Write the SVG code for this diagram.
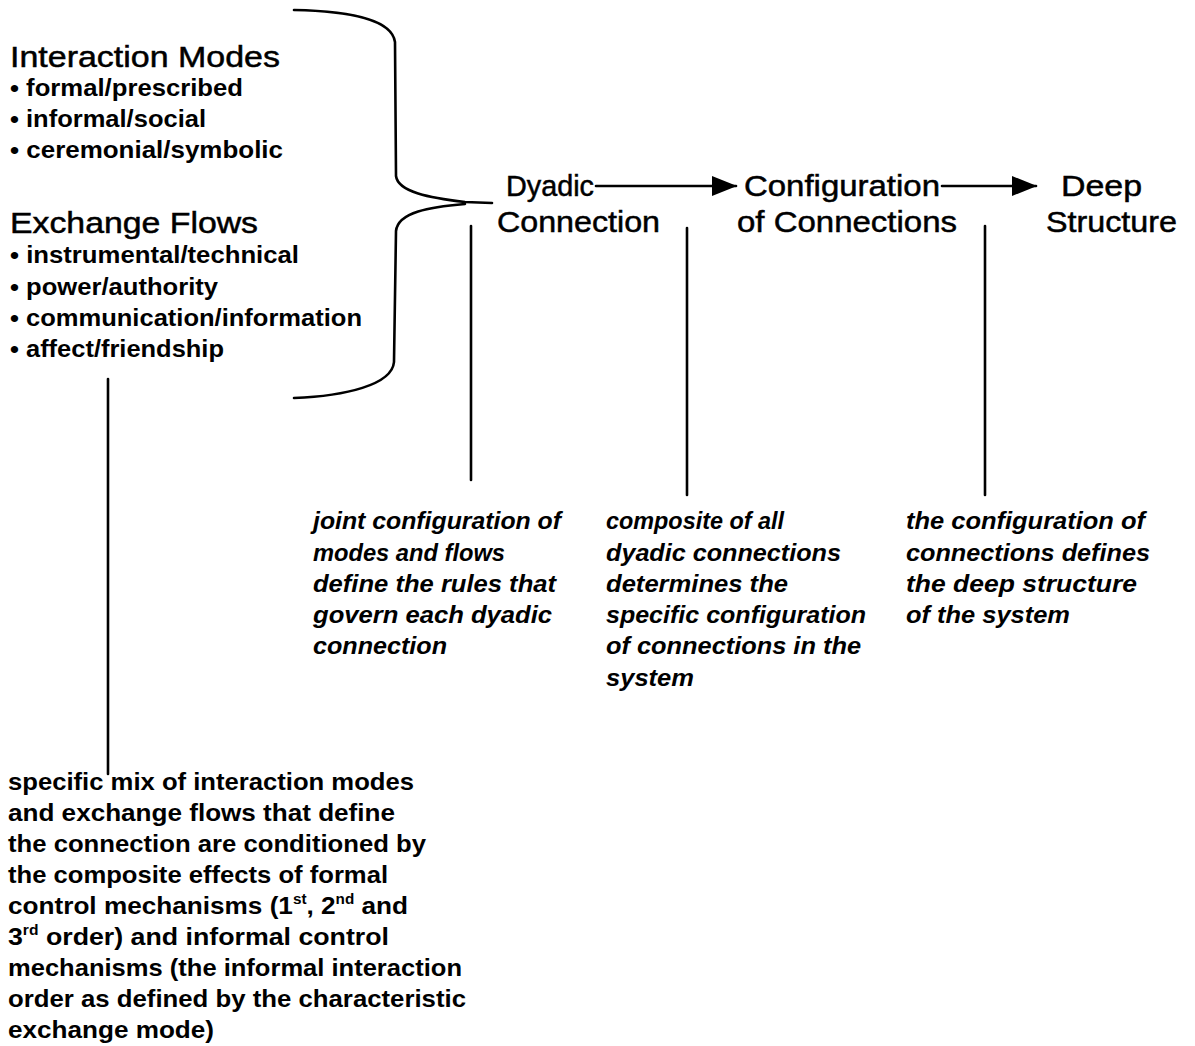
<svg xmlns="http://www.w3.org/2000/svg" width="1195" height="1046" viewBox="0 0 1195 1046">
  <style>
    text { font-family: "Liberation Sans", Arial, sans-serif; fill: #000; }
    .head { font-size: 30px; stroke: #000; stroke-width: 0.5; }
    .item { font-size: 24px; font-weight: bold; }
    .stage { font-size: 30px; stroke: #000; stroke-width: 0.5; }
    .note { font-size: 24px; font-weight: bold; font-style: italic; }
    .body { font-size: 24px; font-weight: bold; }
    .sup { font-size: 14px; }
    .line { stroke: #000; stroke-width: 2.6; fill: none; stroke-linecap: round; }
  </style>
  <defs>
    <marker id="arrow" markerWidth="26" markerHeight="22" refX="24" refY="11" orient="auto" markerUnits="userSpaceOnUse">
      <path d="M0,1 L25,11 L0,21 Z" fill="#000"/>
    </marker>
  </defs>
  <rect width="1195" height="1046" fill="#fff"/>

  <!-- Interaction modes and exchange flows list -->
  <g id="modes-flows">
    <text class="head" x="10" y="67" textLength="270" lengthAdjust="spacingAndGlyphs">Interaction Modes</text>
    <text class="item" x="10" y="96" textLength="233" lengthAdjust="spacingAndGlyphs">• formal/prescribed</text>
    <text class="item" x="10" y="127" textLength="196" lengthAdjust="spacingAndGlyphs">• informal/social</text>
    <text class="item" x="10" y="158" textLength="273" lengthAdjust="spacingAndGlyphs">• ceremonial/symbolic</text>
    <text class="head" x="10" y="233" textLength="248" lengthAdjust="spacingAndGlyphs">Exchange Flows</text>
    <text class="item" x="10" y="263" textLength="289" lengthAdjust="spacingAndGlyphs">• instrumental/technical</text>
    <text class="item" x="10" y="295" textLength="208" lengthAdjust="spacingAndGlyphs">• power/authority</text>
    <text class="item" x="10" y="326" textLength="352" lengthAdjust="spacingAndGlyphs">• communication/information</text>
    <text class="item" x="10" y="357" textLength="214" lengthAdjust="spacingAndGlyphs">• affect/friendship</text>
  </g>

  <!-- Stage labels -->
  <g id="dyadic">
    <text class="stage" x="506" y="196" textLength="88" lengthAdjust="spacingAndGlyphs">Dyadic</text>
    <text class="stage" x="497" y="232" textLength="163" lengthAdjust="spacingAndGlyphs">Connection</text>
  </g>
  <g id="configuration">
    <text class="stage" x="744" y="196" textLength="196" lengthAdjust="spacingAndGlyphs">Configuration</text>
    <text class="stage" x="737" y="232" textLength="220" lengthAdjust="spacingAndGlyphs">of Connections</text>
  </g>
  <g id="deep">
    <text class="stage" x="1061" y="196" textLength="81" lengthAdjust="spacingAndGlyphs">Deep</text>
    <text class="stage" x="1046" y="232" textLength="131" lengthAdjust="spacingAndGlyphs">Structure</text>
  </g>

  <!-- Explanatory notes -->
  <g id="note-dyadic">
    <text class="note" x="313" y="529" textLength="248" lengthAdjust="spacingAndGlyphs">joint configuration of</text>
    <text class="note" x="313" y="561" textLength="192" lengthAdjust="spacingAndGlyphs">modes and flows</text>
    <text class="note" x="313" y="592" textLength="243" lengthAdjust="spacingAndGlyphs">define the rules that</text>
    <text class="note" x="313" y="623" textLength="239" lengthAdjust="spacingAndGlyphs">govern each dyadic</text>
    <text class="note" x="313" y="654" textLength="134" lengthAdjust="spacingAndGlyphs">connection</text>
  </g>
  <g id="note-configuration">
    <text class="note" x="606" y="529" textLength="178" lengthAdjust="spacingAndGlyphs">composite of all</text>
    <text class="note" x="606" y="561" textLength="235" lengthAdjust="spacingAndGlyphs">dyadic connections</text>
    <text class="note" x="606" y="592" textLength="182" lengthAdjust="spacingAndGlyphs">determines the</text>
    <text class="note" x="606" y="623" textLength="260" lengthAdjust="spacingAndGlyphs">specific configuration</text>
    <text class="note" x="606" y="654" textLength="255" lengthAdjust="spacingAndGlyphs">of connections in the</text>
    <text class="note" x="606" y="686" textLength="88" lengthAdjust="spacingAndGlyphs">system</text>
  </g>
  <g id="note-deep">
    <text class="note" x="906" y="529" textLength="239" lengthAdjust="spacingAndGlyphs">the configuration of</text>
    <text class="note" x="906" y="561" textLength="244" lengthAdjust="spacingAndGlyphs">connections defines</text>
    <text class="note" x="906" y="592" textLength="231" lengthAdjust="spacingAndGlyphs">the deep structure</text>
    <text class="note" x="906" y="623" textLength="164" lengthAdjust="spacingAndGlyphs">of the system</text>
  </g>
  <g id="note-mix">
    <text class="body" x="8" y="790" textLength="406" lengthAdjust="spacingAndGlyphs">specific mix of interaction modes</text>
    <text class="body" x="8" y="821" textLength="387" lengthAdjust="spacingAndGlyphs">and exchange flows that define</text>
    <text class="body" x="8" y="852" textLength="418" lengthAdjust="spacingAndGlyphs">the connection are conditioned by</text>
    <text class="body" x="8" y="883" textLength="380" lengthAdjust="spacingAndGlyphs">the composite effects of formal</text>
    <text class="body" x="8" y="914" textLength="400" lengthAdjust="spacingAndGlyphs">control mechanisms (1<tspan class="sup" dy="-10">st</tspan><tspan dy="10">, 2</tspan><tspan class="sup" dy="-10">nd</tspan><tspan dy="10"> and</tspan></text>
    <text class="body" x="8" y="945" textLength="381" lengthAdjust="spacingAndGlyphs">3<tspan class="sup" dy="-10">rd</tspan><tspan dy="10"> order) and informal control</tspan></text>
    <text class="body" x="8" y="976" textLength="454" lengthAdjust="spacingAndGlyphs">mechanisms (the informal interaction</text>
    <text class="body" x="8" y="1007" textLength="458" lengthAdjust="spacingAndGlyphs">order as defined by the characteristic</text>
    <text class="body" x="8" y="1038" textLength="206" lengthAdjust="spacingAndGlyphs">exchange mode)</text>
  </g>

  <!-- Connectors: brace, arrows and leader lines -->
  <g id="connectors">
    <path class="line" d="M294,10 C350,11 392,20 395,42 L396,176 C398,192 430,198 465,202 L492,203"/>
    <path class="line" d="M465,204 C430,207 398,212 396,231 L394,362 C392,385 345,396 294,398"/>
    <line class="line" x1="596" y1="186" x2="736" y2="186" marker-end="url(#arrow)"/>
    <line class="line" x1="942" y1="186" x2="1036" y2="186" marker-end="url(#arrow)"/>
    <line class="line" x1="108" y1="379" x2="108" y2="774"/>
    <line class="line" x1="471" y1="226" x2="471" y2="480"/>
    <line class="line" x1="687" y1="228" x2="687" y2="495"/>
    <line class="line" x1="985" y1="226" x2="985" y2="495"/>
  </g>
</svg>
